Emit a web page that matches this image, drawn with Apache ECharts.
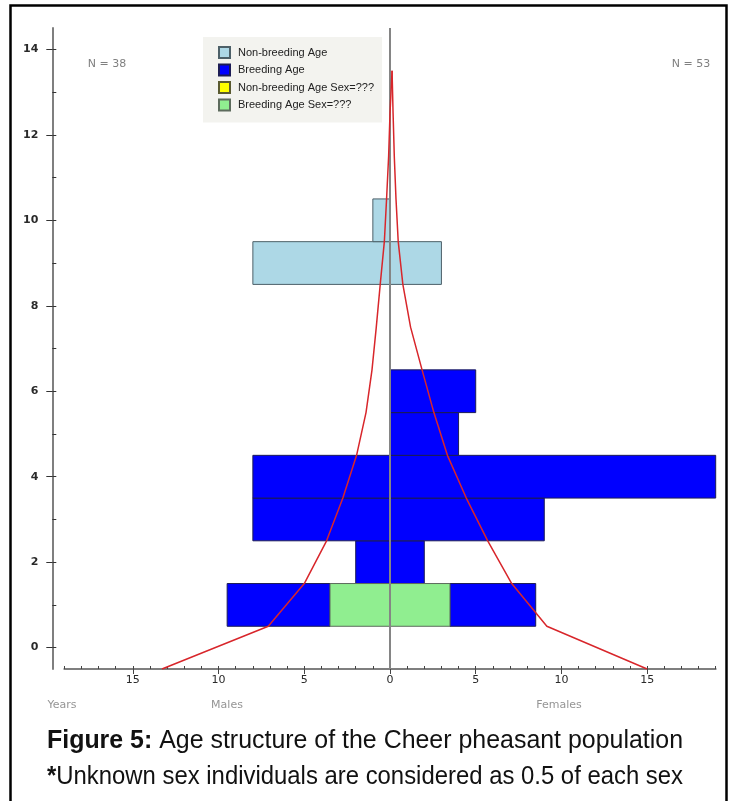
<!DOCTYPE html>
<html><head><meta charset="utf-8">
<script src="https://cdn.jsdelivr.net/npm/echarts@6/dist/echarts.min.js"></script>
<style>html,body{margin:0;padding:0;background:#fff}#c{width:730px;height:801px}</style>
</head><body><div id="c"></div>
<script>
// ---------------- data ----------------
const breedingAges = [1, 2, 3, 4, 5, 6];
const breedingMales = [6, 2, 8, 8, 0, 0];
const breedingFemales = [5, 2, 9, 19, 4, 5];
const breedingUnknownSex = [7, 0, 0, 0, 0, 0];      // counted as 0.5 of each sex
const nonBreedingAges = [9, 10];
const nonBreedingMales = [8, 1];
const nonBreedingFemales = [3, 0];
const nonBreedingUnknownSex = [0, 0];

const curveAges = [-0.5, 0.5, 1.5, 2.5, 3.5, 4.5, 5.5, 6.5, 7.5, 8.5, 9.5, 10.5, 11.5, 12.5, 13.5];
const maleCurve = [-13.3, -7.1, -5.0, -3.7, -2.75, -1.95, -1.4, -1.05, -0.8, -0.57, -0.33, -0.2, -0.08, 0.0, 0.12];
const femaleCurve = [15.0, 9.15, 7.1, 5.7, 4.45, 3.35, 2.56, 1.87, 1.2, 0.75, 0.48, 0.35, 0.25, 0.18, 0.12];

const xMajorTicks = [-15, -10, -5, 0, 5, 10, 15];
const xMinorTicks = [-19, -18, -17, -16, -15, -14, -13, -12, -11, -10, -9, -8, -7, -6, -5, -4, -3, -2, -1, 0,
  1, 2, 3, 4, 5, 6, 7, 8, 9, 10, 11, 12, 13, 14, 15, 16, 17, 18, 19];
const yMajorTicks = [0, 2, 4, 6, 8, 10, 12, 14];
const yAllTicks = [0, 1, 2, 3, 4, 5, 6, 7, 8, 9, 10, 11, 12, 13, 14];
const nMales = 38, nFemales = 53;
const seriesNames = ['Non-breeding Age', 'Breeding Age', 'Non-breeding Age Sex=???', 'Breeding Age Sex=???'];
const captionTitle = 'Figure 5:';
const captionLine1 = ' Age structure of the Cheer pheasant population';
const captionStar = '*';
const captionLine2 = 'Unknown sex individuals are considered as 0.5 of each sex';

// ---------------- build segments ----------------
function knownSegments(ages, males, females, unknown) {
  const out = [];
  ages.forEach((a, i) => {
    const h = unknown[i] / 2;
    if (males[i] > 0) out.push([a, -h, -(h + males[i])]);
    if (females[i] > 0) out.push([a, h, h + females[i]]);
  });
  return out;
}
function unknownSegments(ages, unknown) {
  const out = [];
  ages.forEach((a, i) => {
    const h = unknown[i] / 2;
    if (h > 0) { out.push([a, 0, -h]); out.push([a, 0, h]); }
  });
  return out;
}

function renderBar(params, api) {
  const age = api.value(0), x0 = api.value(1), x1 = api.value(2);
  const p = api.coord([x0, age + 0.5]);
  const q = api.coord([x1, age - 0.5]);
  const cs = params.coordSys;
  const rect = echarts.graphic.clipRectByRect(
    { x: Math.min(p[0], q[0]), y: Math.min(p[1], q[1]), width: Math.abs(q[0] - p[0]), height: Math.abs(q[1] - p[1]) },
    { x: cs.x, y: cs.y, width: cs.width, height: cs.height });
  if (!rect) return null;
  const st = api.style();
  return { type: 'rect', shape: rect, style: { fill: st.fill, stroke: st.stroke, lineWidth: 1 } };
}

function barSeries(name, data, color, border) {
  return {
    name, type: 'custom', renderItem: renderBar, data,
    encode: { x: [1, 2], y: 0 }, z: 2, silent: true,
    itemStyle: { color, borderColor: border, borderWidth: 1 }
  };
}

// ---------------- caption sizing ----------------
const capFamily = "'Liberation Sans Narrow', 'Liberation Sans', Arial, sans-serif";
const capSize = 25;
const mctx = document.createElement('canvas').getContext('2d');
function tw(t, bold) { mctx.font = (bold ? 'bold ' : '') + capSize + 'px ' + capFamily; return mctx.measureText(t).width; }
const capTarget = 636;
const s1 = capTarget / (tw(captionTitle, true) + tw(captionLine1, false));
const s2 = capTarget / (tw(captionStar, true) + tw(captionLine2, false));

const axisGray = '#7f7f7f';
const lblFont = { fontFamily: 'DejaVu Sans', fontSize: 11, color: '#2a2a2a' };

const chart = echarts.init(document.getElementById('c'), null, { renderer: 'canvas' });
chart.setOption({
  animation: false,
  backgroundColor: '#ffffff',
  grid: { left: 64.3, right: 14.3, top: 28, bottom: 132 },
  legend: {
    data: seriesNames, orient: 'vertical', left: 203, top: 37,
    itemWidth: 11, itemHeight: 11, itemGap: 4.5, icon: 'rect',
    padding: [9, 8, 11, 15], backgroundColor: '#f3f3ef', selectedMode: false,
    textStyle: { fontFamily: 'Liberation Sans', fontSize: 11, color: '#222', padding: [0, 0, 0, 3] }
  },
  xAxis: [{
    type: 'value', min: -19, max: 19, position: 'bottom',
    axisLine: { show: true, onZero: false, lineStyle: { color: axisGray, width: 2 } },
    axisTick: { show: true, customValues: xMajorTicks, length: 5, lineStyle: { color: '#444', width: 1 } },
    axisLabel: Object.assign({ customValues: xMajorTicks, margin: 6, formatter: v => String(Math.abs(v)) }, lblFont),
    splitLine: { show: false }
  }, {
    type: 'value', min: -19, max: 19, position: 'bottom',
    axisLine: { show: false, onZero: false },
    axisTick: { show: true, inside: true, customValues: xMinorTicks, length: 3, lineStyle: { color: '#444', width: 1 } },
    axisLabel: { show: false }, splitLine: { show: false }
  }],
  yAxis: [{
    type: 'value', min: -0.5, max: 14.5, position: 'left', offset: 12,
    axisLine: { show: true, onZero: false, lineStyle: { color: axisGray, width: 2 } },
    axisTick: { show: true, customValues: yMajorTicks, length: 6, lineStyle: { color: '#333', width: 1 } },
    axisLabel: Object.assign({ customValues: yMajorTicks, margin: 14, fontWeight: 'bold' }, lblFont),
    splitLine: { show: false }
  }, {
    type: 'value', min: -0.5, max: 14.5, position: 'left', offset: 12,
    axisLine: { show: false, onZero: false },
    axisTick: { show: true, inside: true, customValues: yAllTicks, length: 4, lineStyle: { color: '#333', width: 1 } },
    axisLabel: { show: false }, splitLine: { show: false }
  }],
  series: [
    barSeries(seriesNames[0], knownSegments(nonBreedingAges, nonBreedingMales, nonBreedingFemales, nonBreedingUnknownSex), '#add8e6', '#4d6068'),
    barSeries(seriesNames[1], knownSegments(breedingAges, breedingMales, breedingFemales, breedingUnknownSex), '#0000ff', '#1c1c55'),
    barSeries(seriesNames[2], unknownSegments(nonBreedingAges, nonBreedingUnknownSex), '#ffff00', '#5a5a30'),
    barSeries(seriesNames[3], unknownSegments(breedingAges, breedingUnknownSex), '#90ee90', '#5d6b5d'),
    {
      type: 'line', z: 3, silent: true, showSymbol: false,
      data: [[0, -0.5], [0, 14.5]],
      lineStyle: { color: '#858585', width: 2 }
    },
    {
      type: 'line', z: 4, silent: true, showSymbol: false,
      data: curveAges.map((a, i) => [maleCurve[i], a]),
      lineStyle: { color: '#d8262b', width: 1.5 }
    },
    {
      type: 'line', z: 4, silent: true, showSymbol: false,
      data: curveAges.map((a, i) => [femaleCurve[i], a]),
      lineStyle: { color: '#d8262b', width: 1.5 }
    }
  ],
  graphic: [
    { type: 'rect', silent: true, shape: { x: 10.5, y: 5.5, width: 716, height: 820 },
      style: { fill: 'none', stroke: '#000', lineWidth: 2.5 } },
    { type: 'text', x: 107, y: 64, silent: true,
      style: { text: 'N = ' + nMales, fontFamily: 'DejaVu Sans', fontSize: 11, fill: '#808080', align: 'center', verticalAlign: 'middle' } },
    { type: 'text', x: 691, y: 64, silent: true,
      style: { text: 'N = ' + nFemales, fontFamily: 'DejaVu Sans', fontSize: 11, fill: '#808080', align: 'center', verticalAlign: 'middle' } },
    { type: 'text', x: 62, y: 705, silent: true,
      style: { text: 'Years', fontFamily: 'DejaVu Sans', fontSize: 11, fill: '#959595', align: 'center', verticalAlign: 'middle' } },
    { type: 'text', x: 227, y: 705, silent: true,
      style: { text: 'Males', fontFamily: 'DejaVu Sans', fontSize: 11, fill: '#959595', align: 'center', verticalAlign: 'middle' } },
    { type: 'text', x: 559, y: 705, silent: true,
      style: { text: 'Females', fontFamily: 'DejaVu Sans', fontSize: 11, fill: '#959595', align: 'center', verticalAlign: 'middle' } },
    { type: 'text', x: 47, y: 741, scaleX: s1, silent: true,
      style: { text: '{b|' + captionTitle + '}' + captionLine1, fontFamily: capFamily, fontSize: capSize, fill: '#111',
        verticalAlign: 'middle', rich: { b: { fontWeight: 'bold', fontFamily: capFamily, fontSize: capSize, fill: '#111' } } } },
    { type: 'text', x: 47, y: 777, scaleX: s2, silent: true,
      style: { text: '{b|' + captionStar + '}' + captionLine2, fontFamily: capFamily, fontSize: capSize, fill: '#111',
        verticalAlign: 'middle', rich: { b: { fontWeight: 'bold', fontFamily: capFamily, fontSize: capSize, fill: '#111' } } } }
  ]
});
</script></body></html>
